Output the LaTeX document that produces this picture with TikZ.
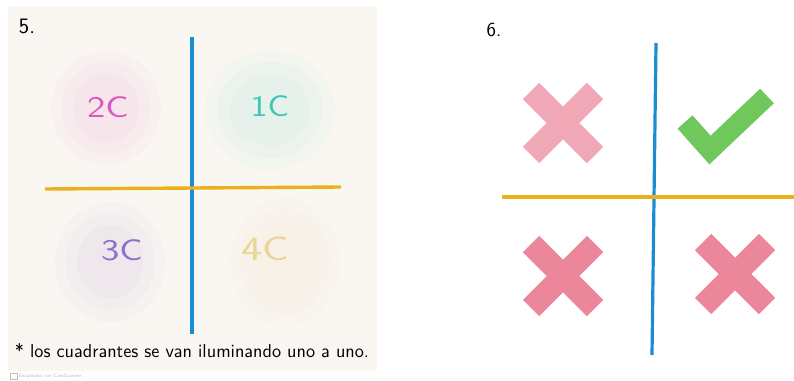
\documentclass[tikz,border=0pt]{standalone}
\usepackage{xcolor}
\usepackage{tikz}
\usetikzlibrary{arrows.meta, positioning, calc}

\definecolor{paper}{RGB}{250,247,242}
\definecolor{lineblue}{RGB}{28,140,210}
\definecolor{lineorange}{RGB}{236,176,28}
\definecolor{qpink}{RGB}{222,86,196}
\definecolor{qteal}{RGB}{60,200,180}
\definecolor{qpurple}{RGB}{140,112,205}
\definecolor{qyellow}{RGB}{236,212,150}
\definecolor{xlight}{RGB}{241,168,182}
\definecolor{xred}{RGB}{236,134,154}
\definecolor{okgreen}{RGB}{112,200,92}

\begin{document}
\begin{tikzpicture}[
    x=1pt, y=-1pt,
    every node/.style={font=\sffamily},
    vline/.style={draw=lineblue, line width=3.2pt},
    hline/.style={draw=lineorange, line width=3.4pt},
    quad/.style={font=\sffamily\fontsize{30}{30}\selectfont},
    blob/.style={opacity=0.035},
    xbar/.style={line width=23pt},
]
    \useasboundingbox (0,0) rectangle (794,380);

    % ── Panel 5: paper sheet ─────────────────────
    \fill[paper] (8,6) rectangle (377,371);
    \node[font=\sffamily\fontsize{22}{22}\selectfont] (n5) at (27,26) {5.};

    % ── Faint shading of the quadrants ───────────
    % three layers each, for soft edges
    \fill[blob, qpink]   (106,108) ellipse [x radius=55, y radius=57];
    \fill[blob, qpink]   (106,108) ellipse [x radius=45, y radius=47];
    \fill[blob, qpink]   (106,108) ellipse [x radius=33, y radius=35];
    \fill[blob, qteal]   (270,110) ellipse [x radius=65, y radius=60];
    \fill[blob, qteal]   (270,110) ellipse [x radius=53, y radius=48];
    \fill[blob, qteal]   (270,110) ellipse [x radius=40, y radius=36];
    \fill[blob, qpurple] (110,262) ellipse [x radius=55, y radius=60];
    \fill[blob, qpurple] (110,262) ellipse [x radius=45, y radius=49];
    \fill[blob, qpurple] (110,262) ellipse [x radius=33, y radius=37];
    \fill[blob, qyellow] (285,262) ellipse [x radius=55, y radius=65];
    \fill[blob, qyellow] (285,262) ellipse [x radius=45, y radius=53];
    \fill[blob, qyellow] (285,262) ellipse [x radius=33, y radius=40];

    % ── Axes ──────────────────────────────────────
    \coordinate (vtop) at (192,37);
    \coordinate (vbot) at (192,334);
    \coordinate (hleft) at (45,189);
    \coordinate (hright) at (341,187);
    \draw[vline] (vtop) -- (vbot);
    \draw[hline] (hleft) -- (hright);

    % ── Quadrant labels ───────────────────────────
    \node[quad, text=qpink]   (q2) at (108,107) {\scalebox{1.3}[1]{2C}};
    \node[quad, text=qteal]   (q1) at (270,106) {\scalebox{1.2}[1]{1C}};
    \node[quad, text=qpurple] (q3) at (122,250) {\scalebox{1.3}[1]{3C}};
    \node[quad, text=qyellow, font=\sffamily\fontsize{34}{34}\selectfont]
        (q4) at (265,249) {\scalebox{1.3}[1]{4C}};

    % ── Note under the axes ──────────────────────
    \node (note) at (192,351)
        {\resizebox{354pt}{14pt}{* los cuadrantes se van iluminando uno a uno.}};

    % ── Scanner mark ──────────────────────────────
    \draw[gray!50, line width=0.5pt] (10,373) rectangle (17,379);
    \node[anchor=west, text=gray!55, font=\sffamily\fontsize{5}{5}\selectfont, inner sep=0pt]
        (scan) at (19,376) {Escaneado con CamScanner};

    % ── Panel 6 ───────────────────────────────────
    \node[font=\sffamily\fontsize{20}{20}\selectfont] (n6) at (494,30) {6.};
    \coordinate (vtop6) at (656,43);
    \coordinate (vbot6) at (652,355);
    \coordinate (hleft6) at (502,197);
    \coordinate (hright6) at (794,197);
    \draw[vline] (vtop6) -- (vbot6);
    \draw[hline] (hleft6) -- (hright6);

    % ── Crosses ───────────────────────────────────
    \def\xd{32}  % half of a bar along each axis
    \coordinate (x2) at (563,123);
    \coordinate (x3) at (563,276);
    \coordinate (x4) at (735,274);
    \draw[xbar, xlight] ($(x2)+(-\xd,-\xd)$) -- ($(x2)+(\xd,\xd)$);
    \draw[xbar, xlight] ($(x2)+(-\xd,\xd)$) -- ($(x2)+(\xd,-\xd)$);
    \draw[xbar, xred] ($(x3)+(-\xd,-\xd)$) -- ($(x3)+(\xd,\xd)$);
    \draw[xbar, xred] ($(x3)+(-\xd,\xd)$) -- ($(x3)+(\xd,-\xd)$);
    \draw[xbar, xred] ($(x4)+(-\xd,-\xd)$) -- ($(x4)+(\xd,\xd)$);
    \draw[xbar, xred] ($(x4)+(-\xd,\xd)$) -- ($(x4)+(\xd,-\xd)$);

    % ── Check mark ────────────────────────────────
    \coordinate (c1) at (685,122);
    \coordinate (cv) at (710,150);
    \coordinate (c2) at (767,96);
    \draw[okgreen, line width=20pt, line join=miter] (c1) -- (cv) -- (c2);
\end{tikzpicture}
\end{document}
